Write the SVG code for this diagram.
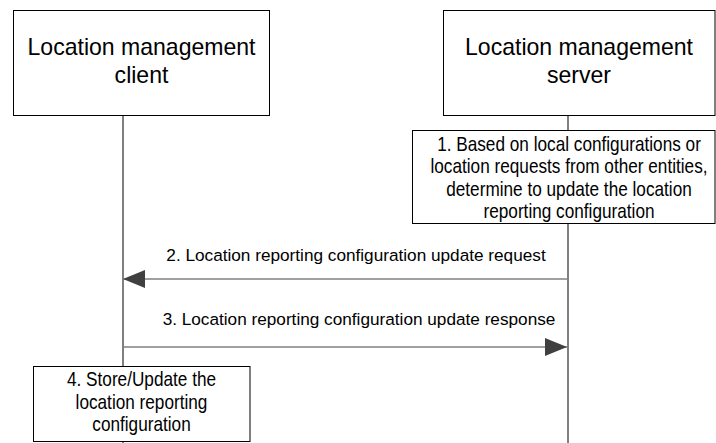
<svg xmlns="http://www.w3.org/2000/svg" width="716" height="443" viewBox="0 0 716 443">
<style>
.box{fill:#fff;stroke:#000;stroke-width:1}
.life{stroke:#000;stroke-width:1}
.msg{stroke:#808080;stroke-width:1.3;fill:none}
.t{font-family:"Liberation Sans",Arial,sans-serif;fill:#000;text-anchor:middle}
.h{font-size:24px}
.s{font-size:17.2px}
.n{font-size:20px}
</style>
<defs>
<marker id="ah" viewBox="0 0 22 18" refX="22" refY="9" markerWidth="22" markerHeight="18" markerUnits="userSpaceOnUse" orient="auto">
<path d="M0,0 L22,9 L0,18 Z" fill="#404040"/>
</marker>
</defs>
<g id="lifelines">
<line class="life" x1="123" y1="116" x2="123" y2="443"/>
<line class="life" x1="568" y1="116" x2="568" y2="443"/>
</g>
<g id="client">
<rect class="box" x="13.5" y="10.5" width="256" height="105"/>
<text class="t h" transform="translate(141.5,55) scale(0.96,1)">Location management</text>
<text class="t h" transform="translate(141.5,83) scale(0.96,1)">client</text>
</g>
<g id="server">
<rect class="box" x="443.5" y="10.5" width="271.5" height="105"/>
<text class="t h" transform="translate(579,55) scale(0.96,1)">Location management</text>
<text class="t h" transform="translate(579,83) scale(0.96,1)">server</text>
</g>
<g id="step1">
<rect class="box" x="412.5" y="130.5" width="302.5" height="93"/>
<text class="t n" transform="translate(569,151) scale(0.86,1)">1. Based on local configurations or</text>
<text class="t n" transform="translate(569,173) scale(0.86,1)">location requests from other entities,</text>
<text class="t n" transform="translate(569,195.5) scale(0.86,1)">determine to update the location</text>
<text class="t n" transform="translate(569,217.5) scale(0.86,1)">reporting configuration</text>
</g>
<g id="connectors">
<line class="msg" x1="568" y1="279" x2="123" y2="279" marker-end="url(#ah)"/>
<text class="t s" x="356" y="261">2. Location reporting configuration update request</text>
<line class="msg" x1="123" y1="347" x2="567" y2="347" marker-end="url(#ah)"/>
<text class="t s" x="359" y="325">3. Location reporting configuration update response</text>
</g>
<g id="step4">
<rect class="box" x="33.5" y="366.5" width="216.5" height="75"/>
<text class="t n" transform="translate(141.5,386) scale(0.86,1)">4. Store/Update the</text>
<text class="t n" transform="translate(141.5,408.5) scale(0.86,1)">location reporting</text>
<text class="t n" transform="translate(141.5,431) scale(0.86,1)">configuration</text>
</g>
</svg>
